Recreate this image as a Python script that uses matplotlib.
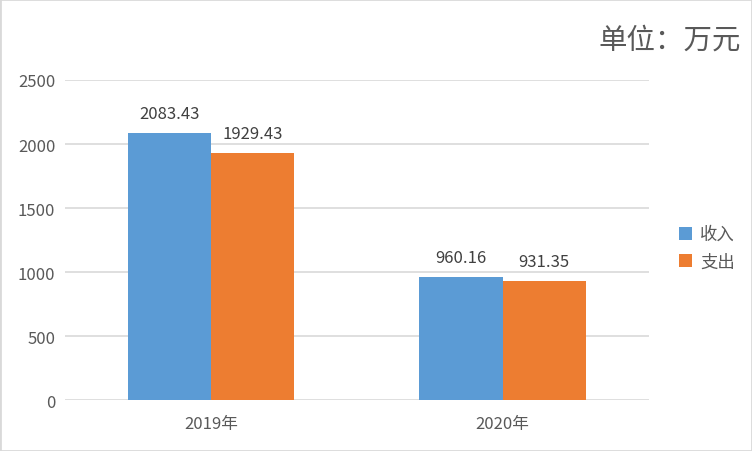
import matplotlib
matplotlib.use('Agg')
import matplotlib.pyplot as plt
from matplotlib.patches import Rectangle
import numpy as np

plt.rcParams['font.family'] = ['Noto Sans CJK SC', 'DejaVu Sans']

categories = ['2019年', '2020年']
income = [2083.43, 960.16]
expense = [1929.43, 931.35]
series_names = ['收入', '支出']
colors = ['#5b9bd5', '#ed7d31']
yticks = [0, 500, 1000, 1500, 2000, 2500]
TXT = '#595959'

fig = plt.figure(figsize=(7.52, 4.52), dpi=100)
fig.patches.append(Rectangle((0, 0), 1, 1, transform=fig.transFigure,
                             fill=False, edgecolor='#d9d9d9', lw=2))
ax = fig.add_axes([0.0864, 0.1128, 0.776, 0.708])

x = np.arange(len(categories))
w = 0.285
b1 = ax.bar(x - w / 2, income, w, color=colors[0], label=series_names[0], zorder=3)
b2 = ax.bar(x + w / 2, expense, w, color=colors[1], label=series_names[1], zorder=3)

for bars in (b1, b2):
    for r in bars:
        ax.annotate(f'{r.get_height():.2f}', (r.get_x() + r.get_width() / 2, r.get_height()),
                    xytext=(0, 8), textcoords='offset points', ha='center', va='bottom',
                    fontsize=12, color='#404040')

ax.set_xlim(-0.5, 1.5)
ax.set_ylim(0, 2500)
ax.set_yticks(yticks)
ax.set_xticks(x)
ax.set_xticklabels(categories)
ax.tick_params(axis='both', length=0, labelsize=12, colors=TXT)
ax.tick_params(axis='y', pad=7)
ax.tick_params(axis='x', pad=11)
ax.grid(axis='y', color='#d9d9d9', lw=1.2, zorder=0)
for s in ax.spines.values():
    s.set_visible(False)

fig.text(0.985, 0.91, '单位：万元', ha='right', va='center', fontsize=20.5, color=TXT)

leg = ax.legend(loc='center left', bbox_to_anchor=(1.025, 0.475), frameon=False,
                fontsize=12.5, handlelength=0.75, handleheight=0.75, handletextpad=0.5,
                labelspacing=0.55)
for t in leg.get_texts():
    t.set_color(TXT)

fig.savefig('out.png', dpi=100)
